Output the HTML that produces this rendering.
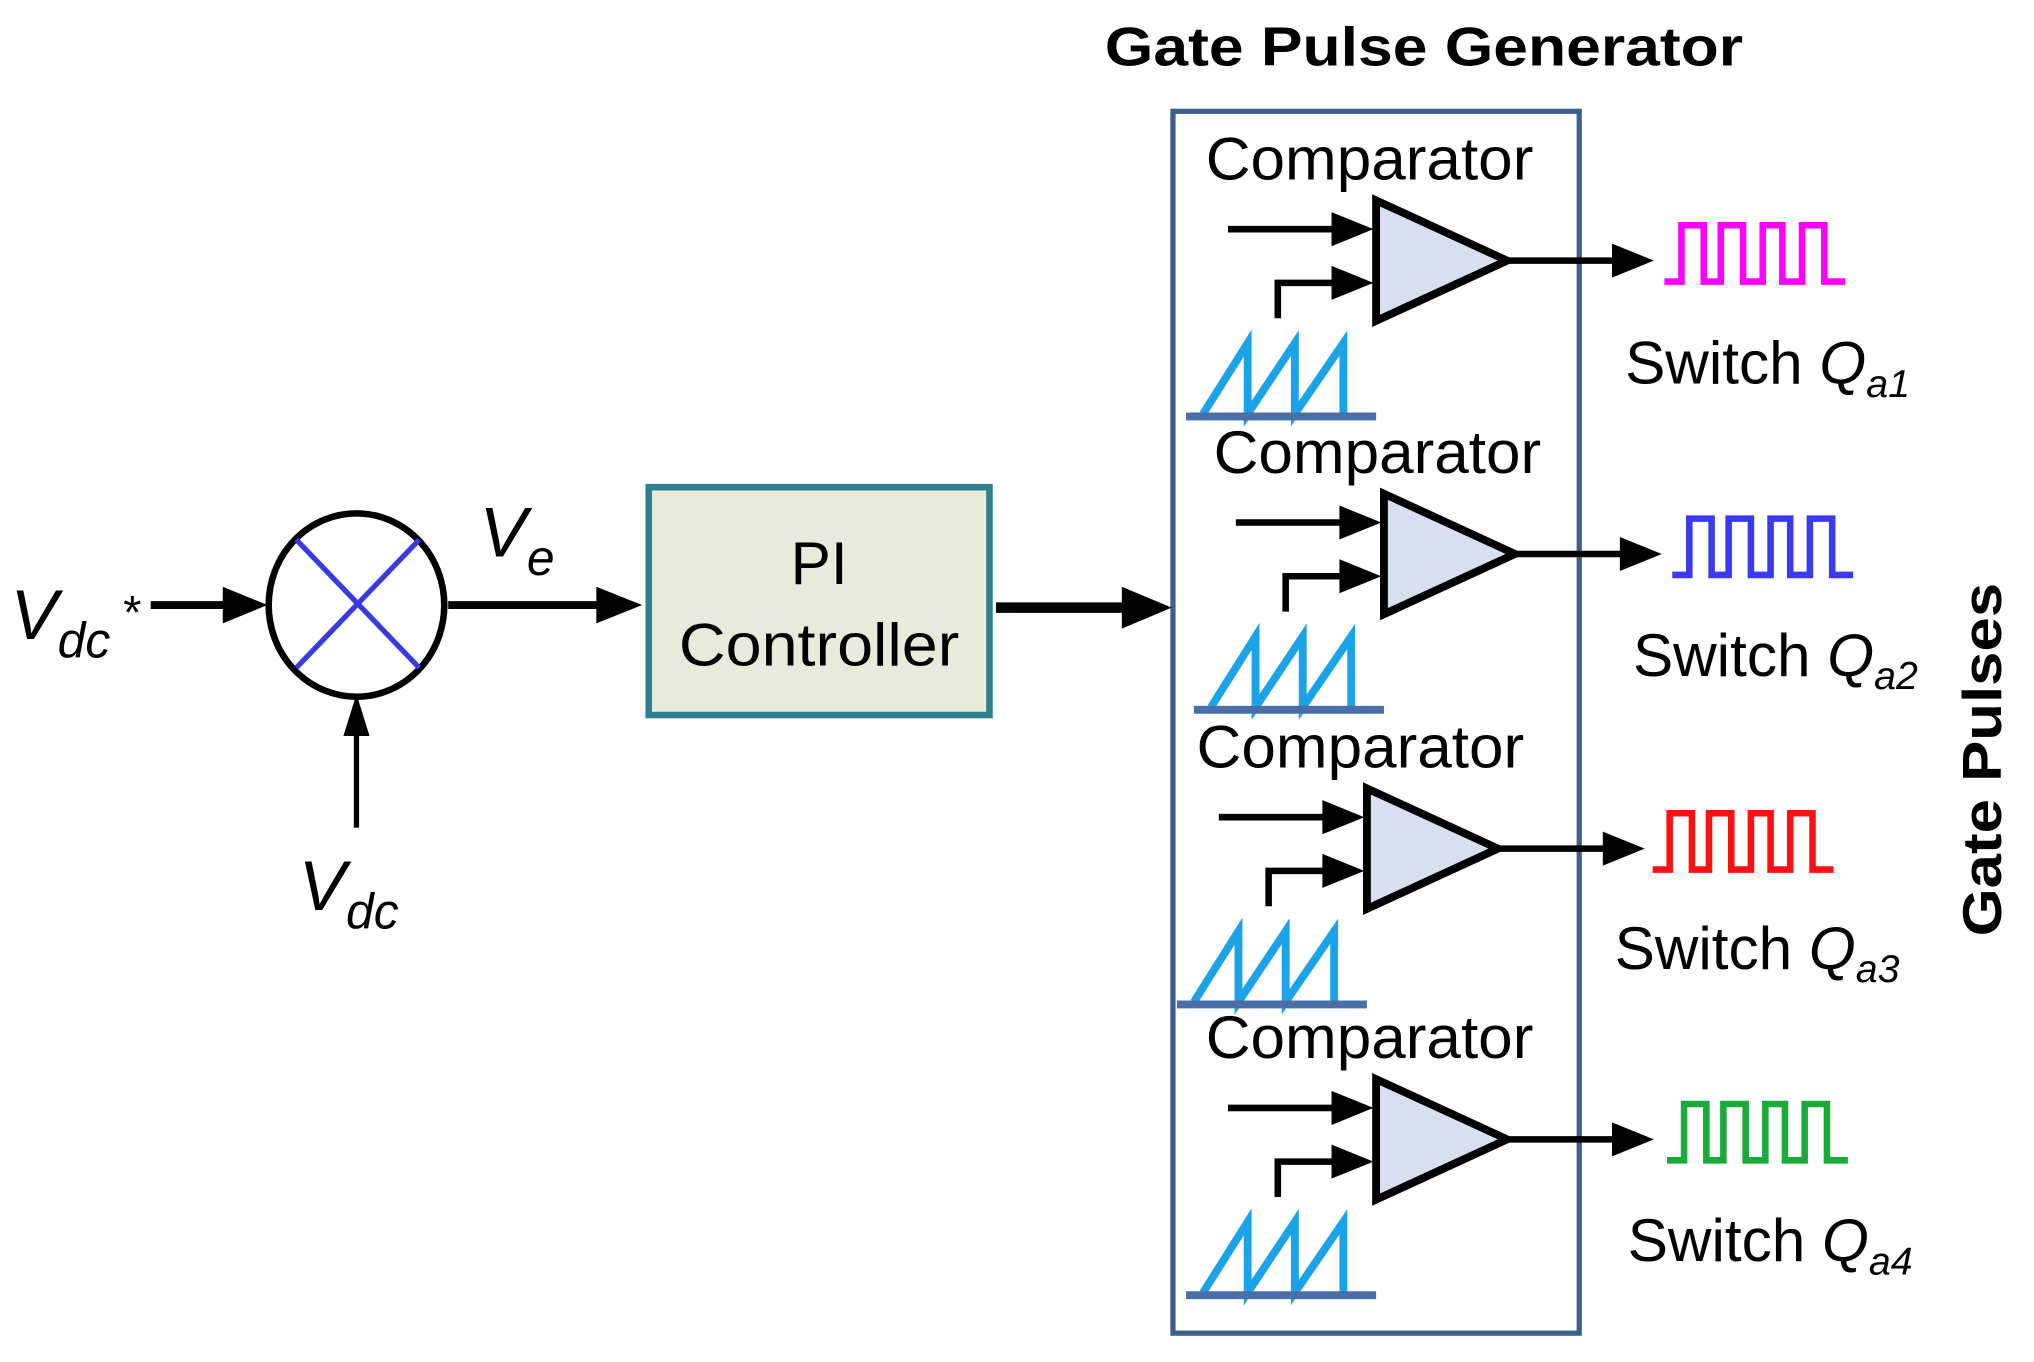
<!DOCTYPE html>
<html><head><meta charset="utf-8"><style>
html,body{margin:0;padding:0;background:#fff;}
svg{display:block;}
text{font-family:"Liberation Sans",Arial,sans-serif;fill:#000;}
</style></head><body>
<svg width="2034" height="1362" viewBox="0 0 1552 1040" preserveAspectRatio="none" xmlns="http://www.w3.org/2000/svg">
<defs>
<g id="unit">
  <text x="920" y="137" font-size="46" textLength="250" lengthAdjust="spacingAndGlyphs">Comparator</text>
  <line x1="937" y1="175" x2="1020" y2="175" stroke="#000" stroke-width="5"/>
  <path d="M1016,162 L1048,175 L1016,188 Z" fill="#000"/>
  <polyline points="975,243 975,216 1020,216" fill="none" stroke="#000" stroke-width="5"/>
  <path d="M1016,203 L1048,216 L1016,229 Z" fill="#000"/>
  <polygon points="1050,153 1050,245 1150,199" fill="#d8dff0" stroke="#000" stroke-width="6" stroke-linejoin="miter"/>
  <line x1="1150" y1="199" x2="1232" y2="199" stroke="#000" stroke-width="5"/>
  <path d="M1230,186 L1262,199 L1230,212 Z" fill="#000"/>
  <polyline points="918,316 952,262 952,316 988,262 988,316 1025,262 1025,316" fill="none" stroke="#1aa3e8" stroke-width="6"/>
  <line x1="905" y1="318" x2="1050" y2="318" stroke="#4a6fa8" stroke-width="6"/>
</g>
<path id="pulse" d="M1270,215 H1283 V172 H1300 V215 H1313 V172 H1330 V215 H1345 V172 H1360 V215 H1375 V172 H1392 V215 H1408" fill="none" stroke-width="5"/>
</defs>

<text x="843" y="50" font-size="42" font-weight="bold" textLength="487" lengthAdjust="spacingAndGlyphs">Gate Pulse Generator</text>
<rect x="895" y="85" width="310" height="933" fill="none" stroke="#3c5f8c" stroke-width="4"/>

<ellipse cx="272" cy="462" rx="67" ry="70" fill="#fff" stroke="#000" stroke-width="5"/>
<line x1="226" y1="412" x2="320" y2="510" stroke="#3a3adf" stroke-width="4"/>
<line x1="320" y1="412" x2="226" y2="510" stroke="#3a3adf" stroke-width="4"/>
<line x1="115" y1="462" x2="175" y2="462" stroke="#000" stroke-width="6"/>
<path d="M170,448 L204,462 L170,476 Z" fill="#000"/>
<line x1="342" y1="462" x2="460" y2="462" stroke="#000" stroke-width="6"/>
<path d="M455,448 L490,462 L455,476 Z" fill="#000"/>
<line x1="272" y1="632" x2="272" y2="560" stroke="#000" stroke-width="4"/>
<path d="M262,562 L272,530 L282,562 Z" fill="#000"/>

<text x="8" y="488" font-size="54" font-style="italic">V<tspan font-size="38" dy="14">dc</tspan></text>
<text x="94" y="480" font-size="36">*</text>
<text x="366" y="425" font-size="54" font-style="italic">V<tspan font-size="38" dy="14">e</tspan></text>
<text x="228" y="695" font-size="54" font-style="italic">V<tspan font-size="38" dy="14">dc</tspan></text>

<rect x="495" y="372" width="260" height="174" fill="#e8ebd9" stroke="#2f7f8f" stroke-width="5"/>
<text x="625" y="446" font-size="46" text-anchor="middle">PI</text>
<text x="518" y="508" font-size="46" textLength="214" lengthAdjust="spacingAndGlyphs">Controller</text>
<line x1="760" y1="464" x2="860" y2="464" stroke="#000" stroke-width="8"/>
<path d="M856,448 L894,464 L856,480 Z" fill="#000"/>

<use href="#unit"/>
<use href="#unit" transform="translate(6,224)"/>
<use href="#unit" transform="translate(-7,449)"/>
<use href="#unit" transform="translate(0,671)"/>

<use href="#pulse" stroke="#ff00ff"/>
<use href="#pulse" stroke="#3a3af0" transform="translate(6,224)"/>
<use href="#pulse" stroke="#ff1010" transform="translate(-9,449)"/>
<use href="#pulse" stroke="#1aaa3a" transform="translate(2,671)"/>

<text x="1240" y="293" font-size="46">Switch <tspan font-style="italic">Q</tspan><tspan font-style="italic" font-size="30" dy="10">a1</tspan></text>
<text x="1246" y="516" font-size="46">Switch <tspan font-style="italic">Q</tspan><tspan font-style="italic" font-size="30" dy="10">a2</tspan></text>
<text x="1232" y="740" font-size="46">Switch <tspan font-style="italic">Q</tspan><tspan font-style="italic" font-size="30" dy="10">a3</tspan></text>
<text x="1242" y="963" font-size="46">Switch <tspan font-style="italic">Q</tspan><tspan font-style="italic" font-size="30" dy="10">a4</tspan></text>

<text x="-135" y="0" font-size="42" font-weight="bold" textLength="270" lengthAdjust="spacingAndGlyphs" transform="translate(1527,580) rotate(-90)">Gate Pulses</text>
</svg>
</body></html>
